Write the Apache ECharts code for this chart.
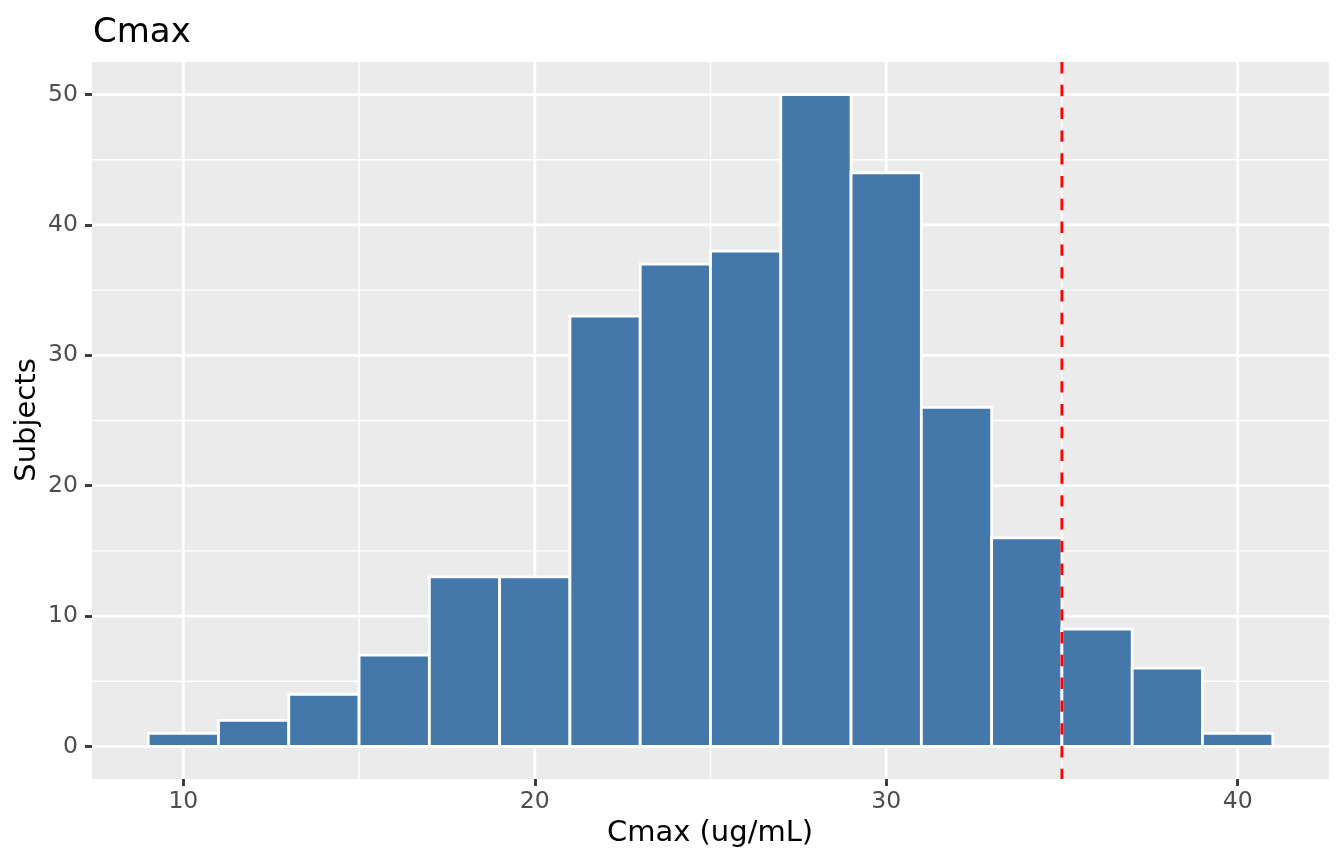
<!DOCTYPE html>
<html>
<head>
<meta charset="utf-8">
<script src="https://cdn.jsdelivr.net/npm/echarts@6/dist/echarts.min.js"></script>
<style>
html,body{margin:0;padding:0;background:#fff;}
#chart{width:1344px;height:864px;}
</style>
</head>
<body>
<div id="chart"></div>
<script>
// ---- data ----
const binLeft = [9, 11, 13, 15, 17, 19, 21, 23, 25, 27, 29, 31, 33, 35, 37, 39];
const binWidth = 2;
const counts = [1, 2, 4, 7, 13, 13, 33, 37, 38, 50, 44, 26, 16, 9, 6, 1];
const refLine = [35];
const xTicks = [10, 20, 30, 40];
const xMinorGrid = [15, 25, 35];
const yTicks = [0, 10, 20, 30, 40, 50];
const yMinorGrid = [5, 15, 25, 35, 45];
const xRange = [7.4, 42.6];
const yRange = [-2.5, 52.5];

const FONT = 'DejaVu Sans';

const chart = echarts.init(document.getElementById('chart'), null, {renderer: 'canvas'});

function vLine(width, color, dash) {
  return function (params, api) {
    const cs = params.coordSys;
    const x = api.coord([api.value(0), api.value(1)])[0];
    return {
      type: 'line',
      shape: {x1: x, y1: cs.y, x2: x, y2: cs.y + cs.height},
      style: {stroke: color, lineWidth: width, lineDash: dash || null}
    };
  };
}
function hLine(width, color) {
  return function (params, api) {
    const cs = params.coordSys;
    const y = api.coord([api.value(0), api.value(1)])[1];
    return {
      type: 'line',
      shape: {x1: cs.x, y1: y, x2: cs.x + cs.width, y2: y},
      style: {stroke: color, lineWidth: width}
    };
  };
}

const option = {
  backgroundColor: '#ffffff',
  animation: false,
  title: {
    text: 'Cmax',
    left: 88,
    top: 11,
    textStyle: {fontFamily: FONT, fontSize: 34, fontWeight: 'normal', color: '#000000'}
  },
  grid: {left: 92, right: 15, top: 62, bottom: 85, show: true, backgroundColor: '#EBEBEB', borderWidth: 0},
  xAxis: {
    type: 'value',
    min: xRange[0],
    max: xRange[1],
    axisLine: {show: false, onZero: false},
    splitLine: {show: false},
    axisTick: {show: true, customValues: xTicks, length: 7, lineStyle: {color: '#333333', width: 2.8}},
    axisLabel: {customValues: xTicks, margin: 11, fontFamily: FONT, fontSize: 23.5, color: '#4D4D4D'}
  },
  yAxis: {
    type: 'value',
    min: yRange[0],
    max: yRange[1],
    axisLine: {show: false, onZero: false},
    splitLine: {show: false},
    axisTick: {show: true, customValues: yTicks, length: 7, lineStyle: {color: '#333333', width: 2.8}},
    axisLabel: {customValues: yTicks, margin: 14, fontFamily: FONT, fontSize: 23.5, color: '#4D4D4D'}
  },
  graphic: [
    {
      type: 'text',
      x: 710, y: 833,
      style: {text: 'Cmax (ug/mL)', font: '29px "DejaVu Sans"', fill: '#000000', textAlign: 'center', textVerticalAlign: 'middle'}
    },
    {
      type: 'text',
      x: 27, y: 420,
      rotation: Math.PI / 2,
      style: {text: 'Subjects', font: '29px "DejaVu Sans"', fill: '#000000', textAlign: 'center', textVerticalAlign: 'middle'}
    }
  ],
  series: [
    {type: 'custom', z: 1, silent: true, renderItem: vLine(1.42, '#ffffff'), data: xMinorGrid.map(v => [v, 0])},
    {type: 'custom', z: 1, silent: true, renderItem: hLine(1.42, '#ffffff'), data: yMinorGrid.map(v => [xRange[0], v])},
    {type: 'custom', z: 1, silent: true, renderItem: vLine(2.84, '#ffffff'), data: xTicks.map(v => [v, 0])},
    {type: 'custom', z: 1, silent: true, renderItem: hLine(2.84, '#ffffff'), data: yTicks.map(v => [xRange[0], v])},
    {
      type: 'custom', z: 2,
      renderItem: function (params, api) {
        const x0 = api.value(0), x1 = api.value(1), c = api.value(2);
        const p0 = api.coord([x0, c]);
        const p1 = api.coord([x1, 0]);
        return {
          type: 'rect',
          shape: {x: p0[0], y: p0[1], width: p1[0] - p0[0], height: p1[1] - p0[1]},
          style: {fill: '#4477AA', stroke: '#ffffff', lineWidth: 2.8}
        };
      },
      encode: {x: [0, 1], y: 2},
      data: binLeft.map((b, i) => [b, b + binWidth, counts[i]])
    },
    {type: 'custom', z: 3, silent: true, renderItem: vLine(2.84, '#FF0000', [11.4, 11.4]), data: refLine.map(v => [v, 0])}
  ]
};
chart.setOption(option);
</script>
</body>
</html>
